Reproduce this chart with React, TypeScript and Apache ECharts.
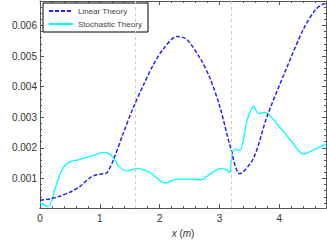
import React, { useEffect, useRef } from "react";
import * as echarts from "echarts";

const linearX = [0, 0.17, 0.33, 0.5, 0.67, 0.84, 0.95, 1.05, 1.12, 1.23, 1.39, 1.56, 1.73, 1.89, 2.06, 2.29, 2.45, 2.68, 2.84, 3.01, 3.18, 3.34, 3.57, 3.79, 4.12, 4.4, 4.6, 4.73, 4.78];
const linearY = [0.00029, 0.00033, 0.00042, 0.00055, 0.00074, 0.00103, 0.00112, 0.00115, 0.00119, 0.00162, 0.00247, 0.00332, 0.00406, 0.0047, 0.00523, 0.00564, 0.00555, 0.00491, 0.00428, 0.00332, 0.00204, 0.00115, 0.00167, 0.003, 0.0046, 0.00587, 0.00651, 0.0067, 0.00672];

const stochX = [0, 0.14, 0.25, 0.36, 0.47, 0.67, 0.89, 1.06, 1.12, 1.23, 1.31, 1.45, 1.64, 1.84, 2.09, 2.29, 2.51, 2.68, 2.84, 3.01, 3.12, 3.17, 3.21, 3.26, 3.34, 3.46, 3.57, 3.65, 3.76, 3.96, 4.21, 4.4, 4.57, 4.79];
const stochY = [0.00021, 0.00008, 0.00066, 0.00125, 0.00151, 0.00162, 0.00175, 0.00185, 0.00184, 0.00167, 0.00141, 0.00125, 0.00132, 0.00119, 0.00085, 0.00098, 0.00098, 0.00095, 0.00114, 0.00132, 0.00128, 0.00119, 0.00178, 0.00196, 0.00191, 0.00289, 0.00336, 0.00312, 0.00316, 0.00278, 0.0022, 0.0018, 0.00193, 0.00214];

const markerX = [1.6, 3.2];
const seriesNames = ["Linear Theory", "Stochastic Theory"];

const X_MIN = 0;
const X_MAX = 4.78;
const Y_MIN = 0.00003;
const Y_MAX = 0.0068;

export default function App() {
  const ref = useRef<HTMLDivElement>(null);
  useEffect(() => {
    if (!ref.current) return;
    const chart = echarts.init(ref.current, undefined, { renderer: "svg" });
    const font = "Liberation Sans, Arial, sans-serif";
    const frameColor = "#555";
    const xBase = (pos: "bottom" | "top", show: boolean) => ({
      type: "value" as const,
      position: pos,
      min: X_MIN,
      max: X_MAX,
      interval: 1,
      axisLine: { show: true, onZero: false, lineStyle: { color: frameColor, width: 1 } },
      axisTick: { show: true, inside: true, length: 4, lineStyle: { color: frameColor } },
      minorTick: { show: true, splitNumber: 5, length: 2, lineStyle: { color: frameColor } },
      splitLine: { show: false },
      axisLabel: {
        show,
        showMaxLabel: false,
        margin: 5,
        color: "#333",
        fontSize: 10,
        fontFamily: font,
        formatter: (v: number) => (Math.abs(v - Math.round(v)) < 1e-6 ? String(Math.round(v)) : ""),
      },
    });
    const yBase = (pos: "left" | "right", show: boolean) => ({
      type: "value" as const,
      position: pos,
      min: Y_MIN,
      max: Y_MAX,
      axisLine: { show: true, onZero: false, lineStyle: { color: frameColor, width: 1 } },
      axisTick: { show: true, inside: true, length: 4, lineStyle: { color: frameColor } },
      minorTick: { show: true, splitNumber: 5, length: 2, lineStyle: { color: frameColor } },
      splitLine: { show: false },
      axisLabel: {
        show,
        showMinLabel: false,
        showMaxLabel: false,
        margin: 3,
        color: "#333",
        fontSize: 10,
        fontFamily: font,
        formatter: (v: number) => {
          const k = v / 0.001;
          return Math.abs(k - Math.round(k)) < 1e-6 ? v.toFixed(3) : "";
        },
      },
    });
    chart.setOption({
      animation: false,
      grid: { left: 40, right: 1, top: 1, bottom: 30, containLabel: false },
      legend: {
        left: 43,
        top: 3,
        orient: "vertical",
        borderColor: "#000",
        borderWidth: 1,
        backgroundColor: "#fff",
        padding: [4, 6, 4, 5],
        itemWidth: 24,
        itemHeight: 8,
        itemGap: 5,
        itemStyle: { opacity: 0 },
        textStyle: { fontSize: 8, color: "#444", fontFamily: font },
        data: seriesNames,
      },
      xAxis: [
        {
          ...xBase("bottom", true),
          name: "{i|x} ({i|m})",
          nameLocation: "middle",
          nameGap: 18,
          nameTextStyle: {
            fontSize: 10,
            color: "#333",
            fontFamily: font,
            rich: { i: { fontStyle: "italic", fontSize: 10, color: "#333", fontFamily: font } },
          },
        },
        xBase("top", false),
      ],
      yAxis: [yBase("left", true), yBase("right", false)],
      series: [
        {
          name: seriesNames[0],
          type: "line",
          data: linearX.map((x, i) => [x, linearY[i]]),
          showSymbol: false,
          symbol: "none",
          smooth: 0.3,
          z: 3,
          lineStyle: { color: "#2222ff", width: 1.5, type: [4, 2] },
          itemStyle: { color: "#2222ff" },
          markLine: {
            silent: true,
            symbol: "none",
            label: { show: false },
            lineStyle: { color: "#ccc", type: [3, 3], width: 1 },
            data: markerX.map((x) => ({ xAxis: x })),
          },
        },
        {
          name: seriesNames[1],
          type: "line",
          data: stochX.map((x, i) => [x, stochY[i]]),
          showSymbol: false,
          symbol: "none",
          smooth: 0.3,
          z: 2,
          lineStyle: { color: "#00ffff", width: 1.3 },
          itemStyle: { color: "#00ffff" },
        },
      ],
    });
    return () => chart.dispose();
  }, []);
  return <div ref={ref} style={{ width: 327, height: 243, position: "absolute", left: 0, top: 0, background: "#fff" }} />;
}
